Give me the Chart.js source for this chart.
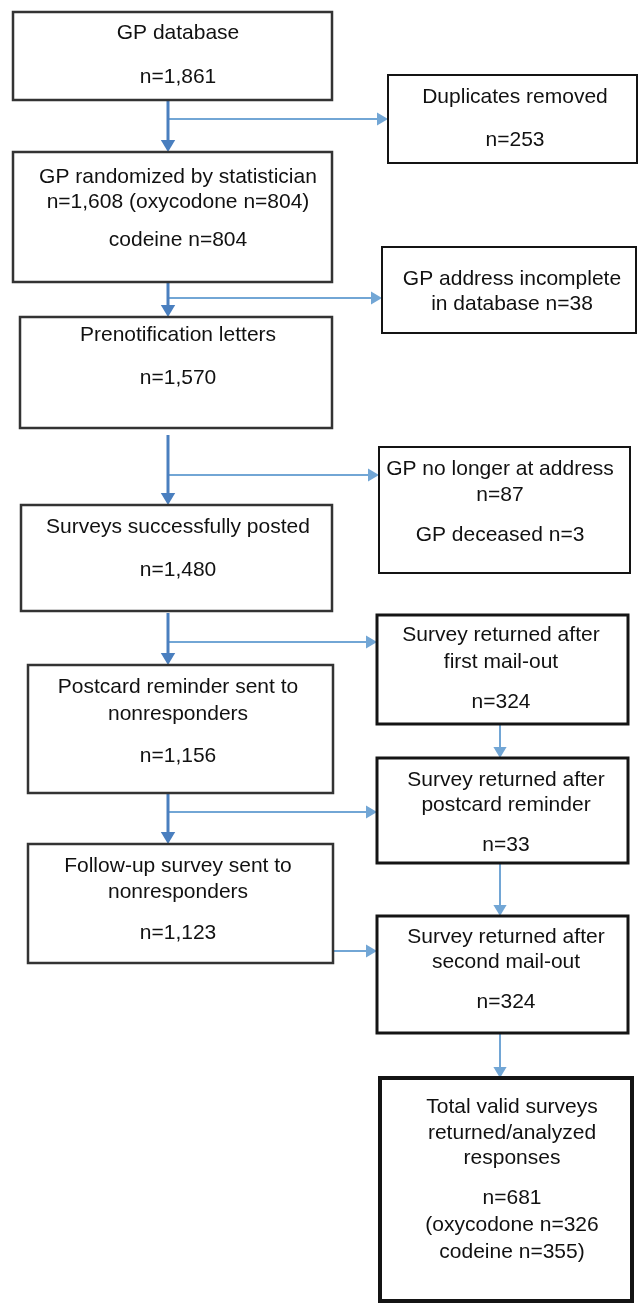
<!DOCTYPE html>
<html>
<head>
<meta charset="utf-8">
<script src="https://cdn.jsdelivr.net/npm/chart.js@4/dist/chart.umd.min.js"></script>
<style>
  html, body { margin: 0; padding: 0; background: #fff; }
  canvas { display: block; }
</style>
</head>
<body>
<canvas id="flowChart" width="639" height="1305"></canvas>
<script>
// main pathway (left column)
const stageTitles = [
  ['GP database'],
  ['GP randomized by statistician'],
  ['Prenotification letters'],
  ['Surveys successfully posted'],
  ['Postcard reminder sent to', 'nonresponders'],
  ['Follow-up survey sent to', 'nonresponders'],
];
const stageCounts = [1861, 1608, 1570, 1480, 1156, 1123];

// exclusions and returns (right column)
const sideTitles = [
  ['Duplicates removed'],
  ['GP address incomplete'],
  ['GP no longer at address'],
  ['Survey returned after', 'first mail-out'],
  ['Survey returned after', 'postcard reminder'],
  ['Survey returned after', 'second mail-out'],
  ['Total valid surveys', 'returned/analyzed', 'responses'],
];
const sideCounts = [253, 38, 87, 324, 33, 324, 681];

const armLabels = ['oxycodone', 'codeine'];
const randomizedByArm = [804, 804];
const analyzedByArm = [326, 355];
const deceasedCount = 3;

const fmt = (v) => v.toLocaleString('en-US');

// text lines of every box, built from the arrays above
const leftText = [
  [stageTitles[0][0], 'n=' + fmt(stageCounts[0])],
  [stageTitles[1][0], 'n=' + fmt(stageCounts[1]) + ' (' + armLabels[0] + ' n=' + randomizedByArm[0] + ')',
    armLabels[1] + ' n=' + randomizedByArm[1]],
  [stageTitles[2][0], 'n=' + fmt(stageCounts[2])],
  [stageTitles[3][0], 'n=' + fmt(stageCounts[3])],
  [...stageTitles[4], 'n=' + fmt(stageCounts[4])],
  [...stageTitles[5], 'n=' + fmt(stageCounts[5])],
];
const rightText = [
  [sideTitles[0][0], 'n=' + sideCounts[0]],
  [sideTitles[1][0], 'in database n=' + sideCounts[1]],
  [sideTitles[2][0], 'n=' + sideCounts[2], 'GP deceased n=' + deceasedCount],
  [...sideTitles[3], 'n=' + sideCounts[3]],
  [...sideTitles[4], 'n=' + sideCounts[4]],
  [...sideTitles[5], 'n=' + sideCounts[5]],
  [...sideTitles[6], 'n=' + sideCounts[6],
    '(' + armLabels[0] + ' n=' + analyzedByArm[0], armLabels[1] + ' n=' + analyzedByArm[1] + ')'],
];

// layout in scale units: box [x0, y0, x1, y1], text centre x, line y's, border width
const leftLayout = [
  { box: [13, 12, 332, 100], tx: 178, ly: [33, 77] },
  { box: [13, 152, 332, 282], tx: 178, ly: [177, 202, 240] },
  { box: [20, 317, 332, 428], tx: 178, ly: [335, 378] },
  { box: [21, 505, 332, 611], tx: 178, ly: [527, 570] },
  { box: [28, 665, 333, 793], tx: 178, ly: [687, 714, 756] },
  { box: [28, 844, 333, 963], tx: 178, ly: [866, 892, 933] },
];
const rightLayout = [
  { box: [388, 75, 637, 163], tx: 515, ly: [97, 140], lw: 2 },
  { box: [382, 247, 636, 333], tx: 512, ly: [279, 304], lw: 2 },
  { box: [379, 447, 630, 573], tx: 500, ly: [469, 495, 535], lw: 2 },
  { box: [377, 615, 628, 724], tx: 501, ly: [635, 662, 702], lw: 3 },
  { box: [377, 758, 628, 863], tx: 506, ly: [780, 805, 845], lw: 3 },
  { box: [377, 916, 628, 1033], tx: 506, ly: [937, 962, 1002], lw: 3 },
  { box: [380, 1078, 632, 1301], tx: 512, ly: [1107, 1133, 1158, 1198, 1225, 1252], lw: 4 },
];

// connectors: [x0, y0, x1, y1]
const mainArrows = [[168, 100, 168, 152], [168, 282, 168, 317], [168, 435, 168, 505], [168, 613, 168, 665], [168, 793, 168, 844]];
const branchArrows = [[168, 119, 388, 119], [168, 298, 382, 298], [168, 475, 379, 475], [168, 642, 377, 642],
  [168, 812, 377, 812], [333, 951, 377, 951], [500, 724, 500, 758], [500, 863, 500, 916], [500, 1033, 500, 1078]];

const flowPlugin = {
  id: 'flow',
  afterDraw(chart) {
    const { ctx, scales: { x, y } } = chart;
    const px = (v) => x.getPixelForValue(v);
    const py = (v) => y.getPixelForValue(v);

    function drawBox(item, lines, lw, color) {
      const [x0, y0, x1, y1] = item.box;
      ctx.save();
      ctx.fillStyle = '#ffffff';
      ctx.fillRect(px(x0), py(y0), px(x1) - px(x0), py(y1) - py(y0));
      ctx.strokeStyle = color;
      ctx.lineWidth = lw;
      ctx.strokeRect(px(x0), py(y0), px(x1) - px(x0), py(y1) - py(y0));
      ctx.fillStyle = '#111111';
      ctx.font = '21px "Liberation Sans", Arial, sans-serif';
      ctx.textAlign = 'center';
      ctx.textBaseline = 'middle';
      lines.forEach((t, i) => ctx.fillText(t, px(item.tx), py(item.ly[i])));
      ctx.restore();
    }

    function drawArrow(a, color, lw, head) {
      const [x0, y0, x1, y1] = a.map((v, i) => (i % 2 ? py(v) : px(v)));
      const ang = Math.atan2(y1 - y0, x1 - x0);
      const c = Math.cos(ang), s = Math.sin(ang), w = head * 0.6;
      ctx.save();
      ctx.strokeStyle = color;
      ctx.fillStyle = color;
      ctx.lineWidth = lw;
      ctx.beginPath();
      ctx.moveTo(x0, y0);
      ctx.lineTo(x1 - c * head, y1 - s * head);
      ctx.stroke();
      ctx.beginPath();
      ctx.moveTo(x1, y1);
      ctx.lineTo(x1 - c * head - s * w, y1 - s * head + c * w);
      ctx.lineTo(x1 - c * head + s * w, y1 - s * head - c * w);
      ctx.closePath();
      ctx.fill();
      ctx.restore();
    }

    branchArrows.forEach((a) => drawArrow(a, '#72a6d5', 2, 11));
    mainArrows.forEach((a) => drawArrow(a, '#4a7fbf', 3, 12));
    leftLayout.forEach((item, i) => drawBox(item, leftText[i], 2.5, '#333333'));
    rightLayout.forEach((item, i) => drawBox(item, rightText[i], item.lw, '#141414'));
  },
};

new Chart(document.getElementById('flowChart'), {
  type: 'scatter',
  data: { datasets: [{ data: [], pointRadius: 0 }] },
  options: {
    responsive: false,
    animation: false,
    devicePixelRatio: 1,
    layout: { padding: 0 },
    plugins: { legend: { display: false }, tooltip: { enabled: false } },
    scales: {
      x: { type: 'linear', min: 0, max: 639, display: false },
      y: { type: 'linear', min: 0, max: 1305, reverse: true, display: false },
    },
  },
  plugins: [flowPlugin],
});
</script>
</body>
</html>
